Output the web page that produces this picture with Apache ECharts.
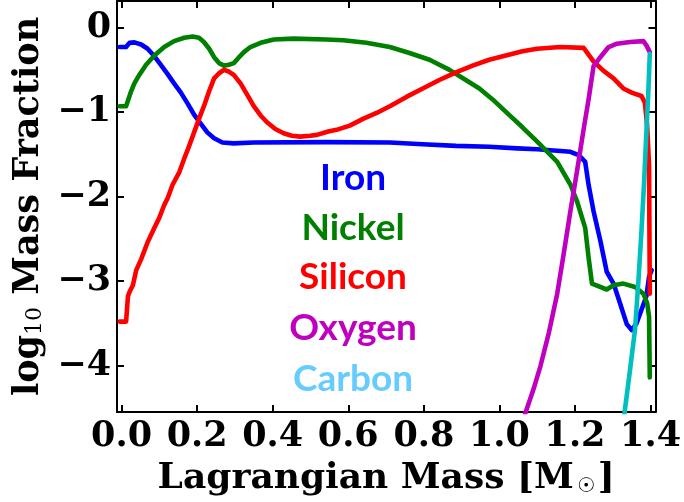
<!DOCTYPE html>
<html>
<head>
<meta charset="utf-8">
<script src="https://cdn.jsdelivr.net/npm/echarts@6/dist/echarts.min.js"></script>
<style>
  html, body { margin: 0; padding: 0; background: #fff; }
  #chart { width: 684px; height: 502px; }
</style>
</head>
<body>
<div id="chart"></div>
<script>
// Mass coordinate (solar masses) and log10 mass fraction, one array per element
const iron = [
  [-0.005,-0.23],[0.012,-0.23],[0.021,-0.18],[0.034,-0.175],[0.052,-0.20],[0.069,-0.25],
  [0.087,-0.34],[0.104,-0.44],[0.122,-0.55],[0.139,-0.66],[0.157,-0.77],[0.175,-0.90],
  [0.192,-1.03],[0.210,-1.14],[0.227,-1.24],[0.245,-1.31],[0.267,-1.36],[0.297,-1.37],
  [0.350,-1.36],[0.543,-1.355],[0.710,-1.36],[0.797,-1.38],[0.885,-1.40],[0.973,-1.41],
  [1.047,-1.43],[1.100,-1.44],[1.188,-1.47],[1.210,-1.51],[1.227,-1.59],[1.236,-1.86],
  [1.249,-2.17],[1.267,-2.52],[1.284,-2.89],[1.302,-3.03],[1.319,-3.26],[1.337,-3.51],
  [1.350,-3.58],[1.363,-3.50],[1.376,-3.34],[1.389,-3.18],[1.396,-2.95],[1.403,-2.87]
];
const nickel = [
  [-0.005,-0.93],[0.012,-0.93],[0.018,-0.85],[0.024,-0.77],[0.034,-0.66],[0.047,-0.56],
  [0.065,-0.44],[0.087,-0.33],[0.113,-0.23],[0.139,-0.16],[0.166,-0.12],[0.188,-0.105],
  [0.205,-0.12],[0.218,-0.17],[0.232,-0.25],[0.245,-0.35],[0.258,-0.42],[0.271,-0.45],
  [0.284,-0.44],[0.297,-0.42],[0.311,-0.35],[0.324,-0.29],[0.341,-0.23],[0.368,-0.18],
  [0.403,-0.14],[0.455,-0.13],[0.542,-0.14],[0.587,-0.15],[0.648,-0.18],[0.710,-0.23],
  [0.762,-0.30],[0.815,-0.38],[0.868,-0.50],[0.911,-0.62],[0.947,-0.72],[0.982,-0.85],
  [1.025,-1.03],[1.061,-1.18],[1.100,-1.35],[1.153,-1.59],[1.188,-1.86],[1.205,-2.05],
  [1.227,-2.37],[1.236,-2.72],[1.245,-3.03],[1.284,-3.10],[1.302,-3.05],[1.328,-3.03],
  [1.359,-3.07],[1.381,-3.15],[1.391,-3.26],[1.396,-3.42],[1.398,-4.14]
];
const silicon = [
  [-0.005,-3.48],[0.012,-3.48],[0.017,-3.18],[0.021,-3.13],[0.030,-3.05],[0.039,-2.87],
  [0.052,-2.74],[0.069,-2.54],[0.087,-2.37],[0.100,-2.25],[0.113,-2.10],[0.122,-2.02],
  [0.135,-1.86],[0.153,-1.71],[0.166,-1.55],[0.179,-1.40],[0.192,-1.24],[0.205,-1.08],
  [0.218,-0.93],[0.232,-0.75],[0.245,-0.60],[0.258,-0.54],[0.271,-0.50],[0.284,-0.52],
  [0.297,-0.56],[0.315,-0.66],[0.332,-0.79],[0.350,-0.93],[0.368,-1.04],[0.385,-1.12],
  [0.407,-1.20],[0.429,-1.25],[0.451,-1.28],[0.473,-1.29],[0.499,-1.28],[0.517,-1.27],
  [0.547,-1.23],[0.569,-1.21],[0.604,-1.16],[0.639,-1.08],[0.675,-1.01],[0.710,-0.93],
  [0.754,-0.82],[0.797,-0.72],[0.841,-0.62],[0.885,-0.53],[0.929,-0.45],[0.973,-0.38],
  [1.017,-0.33],[1.061,-0.28],[1.100,-0.25],[1.161,-0.23],[1.223,-0.24],[1.249,-0.40],
  [1.275,-0.51],[1.302,-0.60],[1.328,-0.72],[1.350,-0.77],[1.376,-0.81],[1.385,-0.89],
  [1.391,-1.16],[1.396,-1.63],[1.398,-3.15]
];
const oxygen = [
  [1.066,-4.60],[1.091,-4.27],[1.109,-4.00],[1.131,-3.61],[1.153,-3.15],[1.170,-2.68],
  [1.188,-2.17],[1.205,-1.71],[1.223,-1.20],[1.236,-0.85],[1.249,-0.46],[1.267,-0.35],
  [1.289,-0.23],[1.311,-0.19],[1.346,-0.17],[1.381,-0.16],[1.389,-0.21],[1.398,-0.29]
];
const carbon = [
  [1.330,-4.60],[1.346,-4.04],[1.359,-3.57],[1.368,-2.99],[1.376,-2.41],[1.383,-1.82],
  [1.389,-1.24],[1.394,-0.77],[1.398,-0.31]
];

const xTicks = [0.0, 0.2, 0.4, 0.6, 0.8, 1.0, 1.2, 1.4];
const yTicks = [-4, -3, -2, -1, 0];

const elementNames = ['Iron', 'Nickel', 'Silicon', 'Oxygen', 'Carbon'];
const lineColors = ['#0000ff', '#008000', '#ff0000', '#bf00bf', '#00bfbf'];
const textColors = ['#0000ff', '#008000', '#ff0000', '#bf00bf', '#66ccff'];
const seriesData = [iron, nickel, silicon, oxygen, carbon];

const SERIF = '"DejaVu Serif", serif';
const xMin = -0.012, xMax = 1.413, yMin = -4.55, yMax = 0.315;

const fmtMinus = v => String(v).replace('-', '\u2212');

function axisPair(kind, ticks, fmt, min, max, extra) {
  const common = {
    type: 'value', min: min, max: max,
    splitLine: { show: false },
    axisLine: { show: true, onZero: false, lineStyle: { color: '#000', width: 2 } },
    axisTick: { show: true, inside: true, length: 7, lineStyle: { color: '#000', width: 2 }, customValues: ticks }
  };
  const main = Object.assign({}, common, {
    axisLabel: {
      show: true, customValues: ticks, formatter: fmt,
      fontFamily: SERIF, fontWeight: 'bold', fontSize: 35, color: '#000',
      margin: kind === 'x' ? 7 : 6
    }
  }, extra);
  const mirror = Object.assign({}, common, {
    position: kind === 'x' ? 'top' : 'right',
    axisLabel: { show: false }
  });
  return [main, mirror];
}

const chart = echarts.init(document.getElementById('chart'), null, { renderer: 'canvas' });

const xAxes = axisPair('x', xTicks, v => v.toFixed(1), xMin, xMax, {
  position: 'bottom',
  name: '{b|Lagrangian Mass [M}{s|\u2609}{b|]}',
  nameLocation: 'middle', nameGap: 49,
  nameTextStyle: {
    rich: {
      b: { fontFamily: SERIF, fontWeight: 'bold', fontSize: 36, color: '#000' },
      s: { fontFamily: '"DejaVu Sans", sans-serif', fontSize: 20, color: '#000', verticalAlign: 'bottom', padding: [14, 3, 0, 3] }
    }
  }
});
const yAxes = axisPair('y', yTicks, fmtMinus, yMin, yMax, {
  position: 'left',
  name: '{b|log}{s|10}{b| Mass Fraction}',
  nameLocation: 'middle', nameGap: 60, nameRotate: 90,
  nameTextStyle: {
    rich: {
      b: { fontFamily: SERIF, fontWeight: 'bold', fontSize: 35, color: '#000' },
      s: { fontFamily: SERIF, fontSize: 22, color: '#000', verticalAlign: 'bottom', padding: [12, 0, 0, 0] }
    }
  }
});

const series = seriesData.map((d, i) => ({
  name: elementNames[i], type: 'line', data: d,
  xAxisIndex: 0, yAxisIndex: 0,
  showSymbol: false, symbol: 'none', smooth: false, clip: true,
  lineStyle: { color: lineColors[i], width: 4.6, join: 'round', cap: 'round' },
  z: 2 + i
}));

// Element names stacked in the middle of the panel
const labelY = [178, 228, 277, 328, 379];
const graphics = elementNames.map((n, i) => ({
  type: 'text', x: 353, y: labelY[i],
  style: {
    text: n, fill: textColors[i], fontFamily: 'Lato, "Open Sans", sans-serif',
    fontWeight: 'bold', fontSize: 37, align: 'center', verticalAlign: 'middle'
  },
  z: 50
}));

chart.setOption({
  animation: false,
  backgroundColor: '#fff',
  grid: { left: 117, right: 25, top: 1, bottom: 85, show: false },
  xAxis: xAxes,
  yAxis: yAxes,
  series: series,
  graphic: graphics
});
</script>
</body>
</html>
